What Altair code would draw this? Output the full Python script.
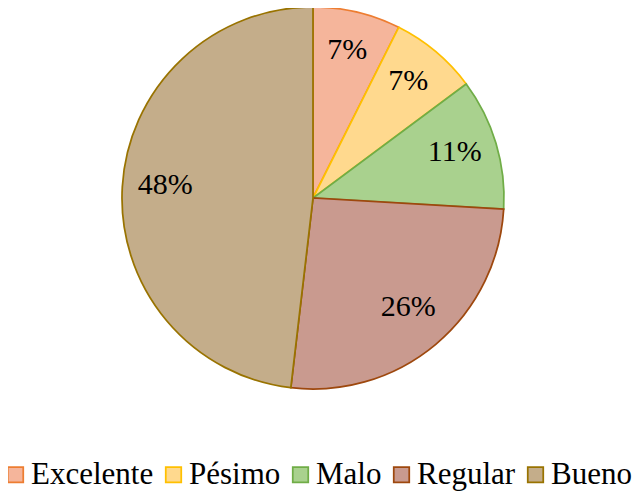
import altair as alt
import pandas as pd

categories = ["Excelente", "Pésimo", "Malo", "Regular", "Bueno"]
counts = [2, 2, 3, 7, 13]
labels = ["7%", "7%", "11%", "26%", "48%"]
fills = ["#F5B59B", "#FFD98E", "#A9D18E", "#C99A8F", "#C4AD8A"]
strokes = ["#ED7D31", "#FFC000", "#70AD47", "#9E480E", "#997300"]

FONT = "Liberation Serif, Times New Roman, serif"

df = pd.DataFrame({
    "cat": categories,
    "n": counts,
    "label": labels,
    "idx": list(range(len(categories))),
})

base = alt.Chart(df).encode(
    theta=alt.Theta("n:Q", stack=True),
    order=alt.Order("idx:Q"),
    x=alt.value(305),
    y=alt.value(190),
)

arcs = base.mark_arc(radius=191, strokeWidth=1.75).encode(
    color=alt.Color(
        "cat:N",
        scale=alt.Scale(domain=categories, range=fills),
        sort=categories,
        legend=alt.Legend(
            orient="none", legendX=-8, legendY=451, direction="horizontal",
            columns=5, title=None, symbolType="square", symbolSize=240,
            symbolStrokeWidth=1.75, labelFont=FONT, labelFontSize=31,
            labelColor="black", labelOffset=0, columnPadding=4,
            symbolOpacity=1, padding=0,
        ),
    ),
    stroke=alt.Stroke("cat:N", scale=alt.Scale(domain=categories, range=strokes), legend=None),
)

text = base.mark_text(radius=148, dy=-4, font=FONT, fontSize=30, color="black").encode(
    text="label:N"
)

chart = (arcs + text).properties(
    width=624, height=486, padding=0,
    autosize=alt.AutoSizeParams(type="none"),
).configure(font=FONT).configure_view(stroke=None)

chart.save("out.html", embed_options={"renderer": "svg", "actions": False})
